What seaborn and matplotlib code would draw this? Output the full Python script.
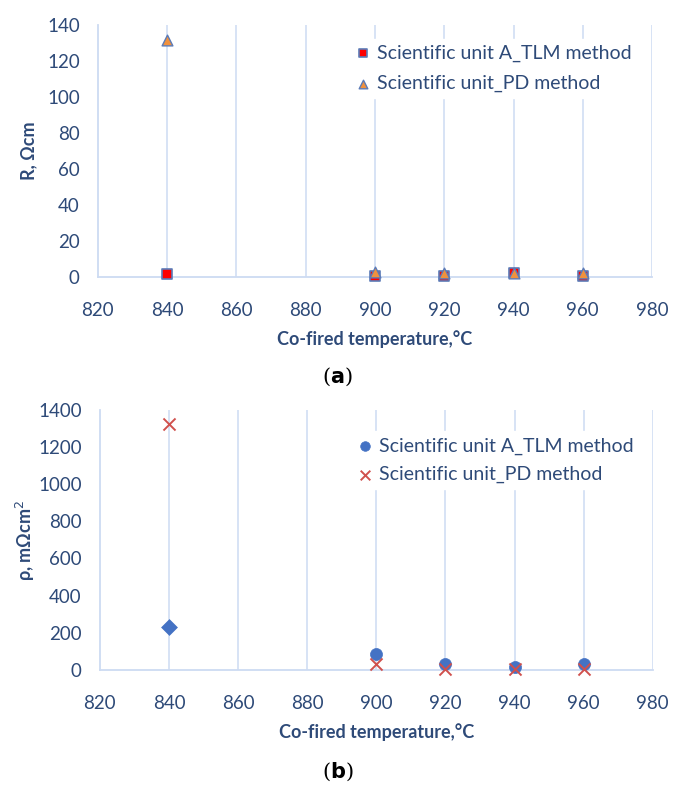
import numpy as np
import pandas as pd
import matplotlib
matplotlib.use('Agg')
import matplotlib.pyplot as plt
import seaborn as sns

# ── Data ──────────────────────────────────────────────────────────────────────

temps = [840, 900, 920, 940, 960]

# (a) contact resistance R, Ohm*cm
r_tlm = [1.5, 0.5, 0.3, 2.0, 0.3]
r_pd = [132, 3.0, 2.0, 2.5, 2.5]

# (b) specific contact resistivity, mOhm*cm2
rho_tlm = [230, 85, 30, 15, 30]
rho_pd = [1325, 30, 5, 5, 5]

x_ticks = [820, 840, 860, 880, 900, 920, 940, 960, 980]
label_tlm = 'Scientific unit A_TLM method'
label_pd = 'Scientific unit_PD method'

# ── Style ─────────────────────────────────────────────────────────────────────

sns.set_theme(style='white')
plt.rcParams['font.family'] = ['Lato', 'DejaVu Sans']

text_col = '#2e4a78'
grid_col = '#cddbf2'
edge_col = '#5b7bb8'


def style_axes(ax, ylim, yticks, ylabel, label_x):
    ax.set_xlim(820, 980)
    ax.set_ylim(*ylim)
    ax.set_xticks(x_ticks)
    ax.set_yticks(yticks)
    ax.grid(False)
    for x in x_ticks[1:]:
        ax.axvline(x, color=grid_col, lw=1.1, zorder=0)
    for side in ['top', 'right']:
        ax.spines[side].set_visible(False)
    for side in ['left', 'bottom']:
        ax.spines[side].set_color(grid_col)
        ax.spines[side].set_linewidth(1.3)
    ax.tick_params(axis='both', colors=text_col, labelsize=13.5, length=0)
    ax.tick_params(axis='x', pad=18)
    ax.tick_params(axis='y', pad=13)
    ax.set_xlabel('Co-fired temperature,°C', color=text_col, fontsize=13,
                  fontweight='bold', labelpad=8)
    ax.set_ylabel(ylabel, color=text_col, fontsize=13, fontweight='bold')
    ax.yaxis.set_label_coords(label_x, 0.5)


def style_legend(ax, anchor, spacing):
    leg = ax.legend(loc='upper left', bbox_to_anchor=anchor,
                    frameon=True, framealpha=1, edgecolor='white',
                    fontsize=14, handlelength=0.8, handletextpad=0.3,
                    labelspacing=spacing, borderpad=0.3, markerscale=0.8)
    for t in leg.get_texts():
        t.set_color(text_col)


fig = plt.figure(figsize=(6.75, 7.87), dpi=100)
ax1 = fig.add_axes([0.145, 0.648, 0.821, 0.320])
ax2 = fig.add_axes([0.148, 0.149, 0.819, 0.330])

# ── (a) ───────────────────────────────────────────────────────────────────────

df_a = pd.DataFrame({'T': temps, 'tlm': r_tlm, 'pd': r_pd})
sns.scatterplot(data=df_a, x='T', y='tlm', ax=ax1, marker='s', s=60,
                color='#ff0000', edgecolor=edge_col, linewidth=1.2,
                label=label_tlm, zorder=3, clip_on=False)
sns.scatterplot(data=df_a, x='T', y='pd', ax=ax1, marker='^', s=60,
                color='#f0913e', edgecolor=edge_col, linewidth=1.0,
                label=label_pd, zorder=4, clip_on=False)
style_axes(ax1, (0, 140), range(0, 141, 20), 'R, Ωcm', -0.11)
style_legend(ax1, (0.437, 0.985), 0.67)

# ── (b) ───────────────────────────────────────────────────────────────────────

df_b = pd.DataFrame({'T': temps, 'tlm': rho_tlm, 'pd': rho_pd})
sns.scatterplot(data=df_b.iloc[1:], x='T', y='tlm', ax=ax2, marker='o', s=75,
                color='#4472c4', edgecolor='#4472c4', linewidth=0.5,
                label=label_tlm, zorder=3, clip_on=False)
sns.scatterplot(data=df_b.iloc[:1], x='T', y='tlm', ax=ax2, marker='D', s=65,
                color='#4472c4', edgecolor='#4472c4', linewidth=0.5,
                zorder=3, clip_on=False)
sns.scatterplot(data=df_b, x='T', y='pd', ax=ax2, marker='x', s=75,
                color='#d0504d', linewidth=1.4, label=label_pd, zorder=4,
                clip_on=False)
style_axes(ax2, (0, 1400), range(0, 1401, 200), 'ρ, mΩcm$^2$', -0.114)
style_legend(ax2, (0.438, 0.955), 0.57)

# ── Captions ──────────────────────────────────────────────────────────────────

fig.text(0.5, 1 - 377 / 787, '(' + r'$\mathbf{a}$' + ')', ha='center',
         va='center', fontsize=15, family='DejaVu Serif', color='black')
fig.text(0.5, 1 - 772 / 787, '(' + r'$\mathbf{b}$' + ')', ha='center',
         va='center', fontsize=15, family='DejaVu Serif', color='black')

fig.savefig('out.png', dpi=100)
